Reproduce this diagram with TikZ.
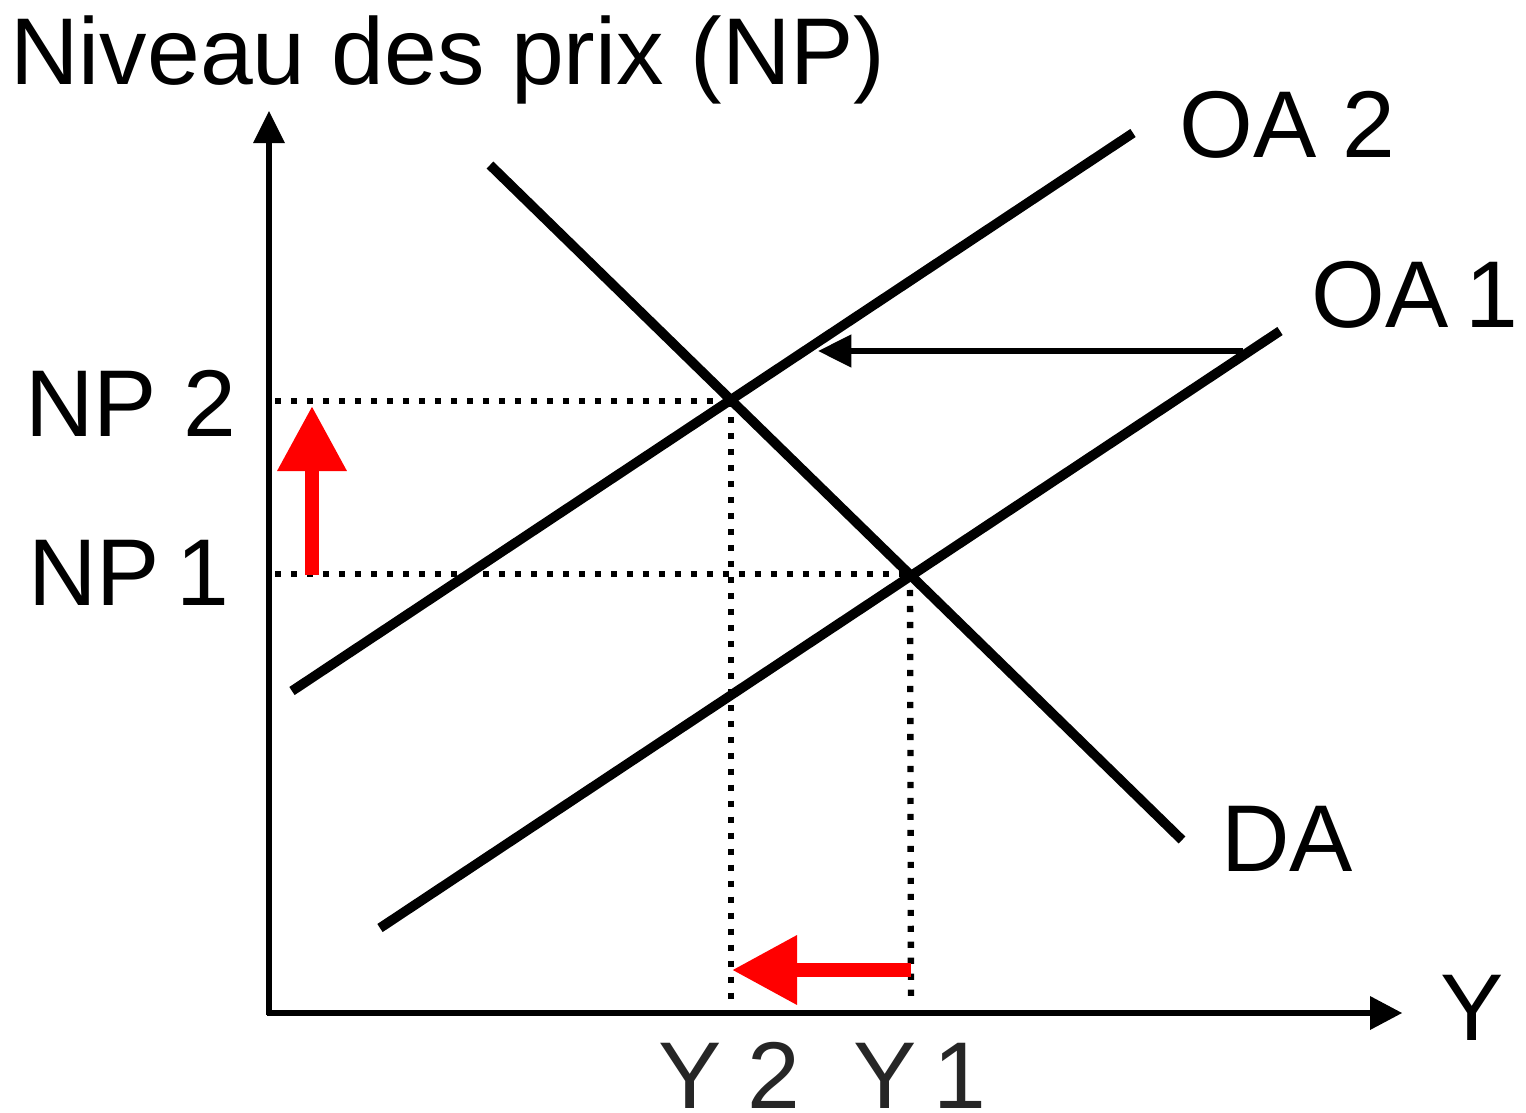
\documentclass[tikz,border=0pt]{standalone}
\usepackage{fontspec}
\setmainfont{Liberation Sans}
\usetikzlibrary{arrows.meta}
\definecolor{lblgrey}{HTML}{262626}
\newcommand{\onekern}{\kern-0.19cm}
\begin{document}
\begin{tikzpicture}[x=0.02cm,y=-0.02cm,
  lbl/.style={anchor=base west,inner sep=0pt,font=\fontsize{54}{60}\selectfont},
  curve/.style={line width=5.5pt},
  axis/.style={line width=2.9pt},
  dotline/.style={line width=3.6pt,dash pattern=on 3.5pt off 5.6pt},
  shiftarrow/.style={line width=3.4pt,-{Triangle[length=19pt,width=18pt]}},
  redarrow/.style={red,line width=7.8pt,-{Triangle[length=37pt,width=37.5pt]}}]
\useasboundingbox (0,0) rectangle (1526,1113);
% axes
\coordinate (O) at (269,1013);
\coordinate (ytop) at (269,111);
\coordinate (xend) at (1402,1013);
\draw[axis] (269,1015) -- (269,143);
\fill (253,143) -- (285,143) -- (ytop) -- cycle;
\draw[axis] (267,1013) -- (1370,1013);
\fill (1370,996) -- (1370,1030) -- (xend) -- cycle;
% curves
\coordinate (oa2a) at (292,691);
\coordinate (oa2b) at (1133,133);
\coordinate (oa1a) at (380,928);
\coordinate (oa1b) at (1280,331);
\coordinate (daa) at (490,165);
\coordinate (dab) at (1182,840);
\coordinate (E2) at (731,401);
\coordinate (E1) at (910,574);
% dotted lines
\draw[dotline] (275,401) -- (E2);
\draw[dotline] (275,574) -- (E1);
\draw[dotline] (E2) -- (731,1005);
\draw[dotline] (E1) -- (911,1005);
\draw[curve] (oa2a) -- (oa2b);
\draw[curve] (oa1a) -- (oa1b);
\draw[curve] (daa) -- (dab);
% shift arrow
\coordinate (sa) at (1243,351);
\coordinate (sb) at (818,351);
\draw[shiftarrow] (sa) -- (sb);
% red arrows
\coordinate (ru1) at (312,575);
\coordinate (ru2) at (312,406);
\draw[redarrow] (ru1) -- (ru2);
\coordinate (rl1) at (911,970);
\coordinate (rl2) at (732,970);
\draw[redarrow] (rl1) -- (rl2);
% labels
\node[lbl] (title) at (10,84) {Niveau des prix (NP)};
\node[lbl] (loa2) at (1179,157) {OA 2};
\node[lbl] (loa1) at (1311,327) {OA \onekern1};
\node[lbl] (lda) at (1221,871) {DA};
\node[lbl] (lnp2) at (25,436) {NP 2};
\node[lbl] (lnp1) at (28,605) {NP \onekern1};
\node[lbl,text=lblgrey] (ly2) at (658,1108) {Y 2};
\node[lbl,text=lblgrey] (ly1) at (853,1108) {Y \onekern1};
\node[lbl] (ly) at (1440,1040) {Y};
\end{tikzpicture}
\end{document}
